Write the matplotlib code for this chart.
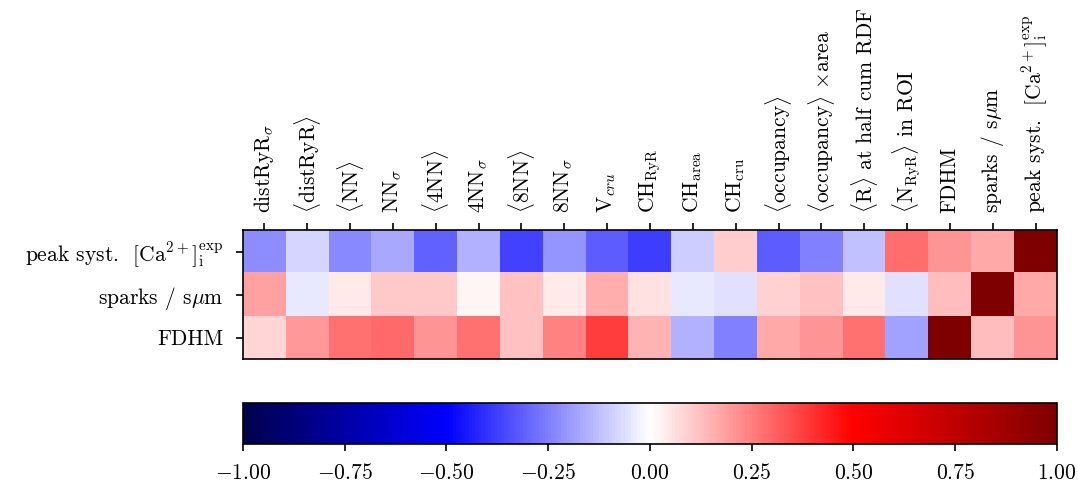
import numpy as np
import matplotlib
matplotlib.use("Agg")
import matplotlib.pyplot as plt

plt.rcParams["font.family"] = "serif"
plt.rcParams["font.serif"] = ["cmr10"]
plt.rcParams["mathtext.fontset"] = "cm"
plt.rcParams["axes.formatter.use_mathtext"] = True
plt.rcParams["font.size"] = 15.5

col_labels = [
    r"distRyR$_\sigma$", r"$\langle$distRyR$\rangle$", r"$\langle$NN$\rangle$",
    r"NN$_\sigma$", r"$\langle$4NN$\rangle$", r"4NN$_\sigma$",
    r"$\langle$8NN$\rangle$", r"8NN$_\sigma$", r"V$_{cru}$",
    r"CH$_{\rm RyR}$", r"CH$_{\rm area}$", r"CH$_{\rm cru}$",
    r"$\langle$occupancy$\rangle$", r"$\langle$occupancy$\rangle$ $\times$area",
    r"$\langle$R$\rangle$ at half cum RDF", r"$\langle$N$_{\rm RyR}\rangle$ in ROI",
    "FDHM", r"sparks / s$\mu$m", r"peak syst.  [Ca$^{2+}$]$_{\rm i}^{\rm exp}$",
]
row_labels = [r"peak syst.  [Ca$^{2+}$]$_{\rm i}^{\rm exp}$", r"sparks / s$\mu$m", "FDHM"]

peak_corr = [-0.225, -0.08, -0.23, -0.167, -0.31, -0.15, -0.375, -0.21, -0.32, -0.38,
             -0.10, 0.10, -0.32, -0.25, -0.12, 0.285, 0.206, 0.167, 1.0]
sparks_corr = [0.186, -0.04, 0.045, 0.108, 0.108, 0.02, 0.124, 0.045, 0.163, 0.06,
               -0.045, -0.057, 0.092, 0.124, 0.045, -0.06, 0.13, 1.0, 0.167]
fdhm_corr = [0.084, 0.196, 0.275, 0.294, 0.206, 0.28, 0.124, 0.245, 0.38, 0.147,
             -0.15, -0.25, 0.167, 0.206, 0.275, -0.18, 1.0, 0.127, 0.206]

corr = np.array([peak_corr, sparks_corr, fdhm_corr])

fig = plt.figure(figsize=(10.78, 4.87), dpi=100)
ax = fig.add_axes([0.2254, 0.2628, 0.7551, 0.2649])
im = ax.imshow(corr, cmap="seismic", vmin=-1, vmax=1, aspect="auto")

ax.set_xticks(np.arange(len(col_labels)))
ax.set_xticklabels(col_labels, rotation=90)
ax.xaxis.tick_top()
ax.set_yticks(np.arange(len(row_labels)))
ax.set_yticklabels(row_labels)
ax.tick_params(length=5, width=1.2, pad=7)
ax.tick_params(axis="y", pad=9)
for s in ax.spines.values():
    s.set_linewidth(1.2)

cax = fig.add_axes([0.2254, 0.0883, 0.7551, 0.0842])
cb = fig.colorbar(im, cax=cax, orientation="horizontal")
cb.set_ticks(np.arange(-1, 1.01, 0.25))
cb.ax.xaxis.set_major_formatter(matplotlib.ticker.FuncFormatter(lambda v, p: r"$%.2f$" % v))
cb.ax.tick_params(length=5, width=1.2, pad=9)
cb.outline.set_linewidth(1.2)

fig.savefig("out.png", dpi=100)
